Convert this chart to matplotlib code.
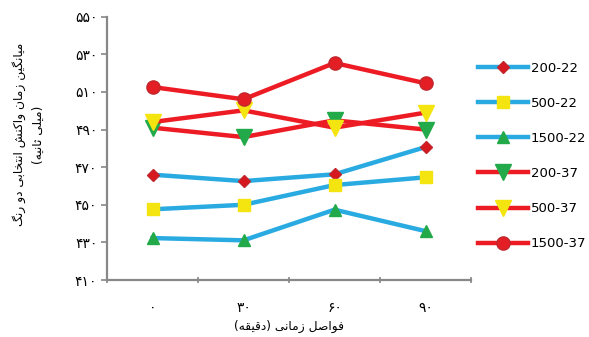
import matplotlib
matplotlib.use("Agg")
import matplotlib.pyplot as plt

# reaction time means per interval
intervals = ["۰", "۳۰", "۶۰", "۹۰"]
s200_22 = [466.0, 462.6, 466.2, 480.7]
s500_22 = [447.6, 450.0, 460.5, 464.6]
s1500_22 = [432.3, 431.1, 447.4, 436.0]
s200_37 = [491.0, 486.0, 494.9, 490.0]
s500_37 = [494.0, 500.2, 491.0, 499.0]
s1500_37 = [512.6, 506.1, 525.4, 514.6]
y_ticks = [410, 430, 450, 470, 490, 510, 530, 550]

ylabel_1 = "میانگین زمان واکنش انتخابی دو رنگ"
ylabel_2 = "(میلی ثانیه)"
xlabel = "فواصل زمانی (دقیقه)"

# contextual forms: isolated, final, initial, medial
FORMS = {
    'ا': (0xFE8D, 0xFE8E, None, None),
    'ب': (0xFE8F, 0xFE90, 0xFE91, 0xFE92),
    'ت': (0xFE95, 0xFE96, 0xFE97, 0xFE98),
    'ث': (0xFE99, 0xFE9A, 0xFE9B, 0xFE9C),
    'خ': (0xFEA5, 0xFEA6, 0xFEA7, 0xFEA8),
    'د': (0xFEA9, 0xFEAA, None, None),
    'ر': (0xFEAD, 0xFEAE, None, None),
    'ز': (0xFEAF, 0xFEB0, None, None),
    'ش': (0xFEB5, 0xFEB6, 0xFEB7, 0xFEB8),
    'ص': (0xFEB9, 0xFEBA, 0xFEBB, 0xFEBC),
    'ف': (0xFED1, 0xFED2, 0xFED3, 0xFED4),
    'ق': (0xFED5, 0xFED6, 0xFED7, 0xFED8),
    'ک': (0xFB8E, 0xFB8F, 0xFB90, 0xFB91),
    'گ': (0xFB92, 0xFB93, 0xFB94, 0xFB95),
    'ل': (0xFEDD, 0xFEDE, 0xFEDF, 0xFEE0),
    'م': (0xFEE1, 0xFEE2, 0xFEE3, 0xFEE4),
    'ن': (0xFEE5, 0xFEE6, 0xFEE7, 0xFEE8),
    'ه': (0xFEE9, 0xFEEA, 0xFEEB, 0xFEEC),
    'و': (0xFEED, 0xFEEE, None, None),
    'ی': (0xFBFC, 0xFBFD, 0xFBFE, 0xFBFF),
}


def rtl(text):
    # join letters and flip to visual order, since matplotlib has no shaping
    out = []
    for i, ch in enumerate(text):
        f = FORMS.get(ch)
        if f is None:
            out.append(ch)
            continue
        prev = text[i - 1] if i > 0 else ''
        nxt = text[i + 1] if i + 1 < len(text) else ''
        jp = prev in FORMS and FORMS[prev][2] is not None
        jn = nxt in FORMS and f[2] is not None
        if jp and jn:
            g = f[3]
        elif jp:
            g = f[1]
        elif jn:
            g = f[2]
        else:
            g = f[0]
        out.append(chr(g))
    return ''.join(out)[::-1].translate(str.maketrans('()', ')('))


def fa_digits(n):
    return str(n).translate(str.maketrans('0123456789', '۰۱۲۳۴۵۶۷۸۹'))


plt.rcParams['font.family'] = ['DejaVu Sans']

fig = plt.figure(figsize=(5.89, 3.37), dpi=100)
ax = fig.add_axes([0.1817, 0.1691, 0.618, 0.7813])

blue = "#29abe2"
red = "#ed1c24"
x = range(len(intervals))
lw = 3.2

ax.plot(x, s200_22, color=blue, lw=lw, marker="D", ms=6.5, mfc="#d7191f", mec="#c1272d", label="200-22")
ax.plot(x, s500_22, color=blue, lw=lw, marker="s", ms=8.5, mfc="#f4e410", mec="#f4e410", label="500-22")
ax.plot(x, s1500_22, color=blue, lw=lw, marker="^", ms=9, mfc="#22aa4a", mec="#22aa4a", label="1500-22")
ax.plot(x, s200_37, color=red, lw=lw, marker="v", ms=11, mfc="#22aa4a", mec="#22aa4a", label="200-37")
ax.plot(x, s500_37, color=red, lw=lw, marker="v", ms=11, mfc="#f4e410", mec="#f4e410", label="500-37")
ax.plot(x, s1500_37, color=red, lw=lw, marker="o", ms=9.5, mfc="#e31e24", mec="#c1272d", label="1500-37")

ax.set_xlim(-0.5, 3.5)
ax.set_ylim(410, 550)
ax.set_yticks(y_ticks)
ax.set_yticklabels([fa_digits(v) for v in y_ticks], fontsize=10)
ax.set_xticks(list(x))
ax.set_xticklabels(intervals, fontsize=10)
ax.set_xticks([-0.5, 0.5, 1.5, 2.5, 3.5], minor=True)
ax.tick_params(axis="x", which="major", length=0, pad=15)
ax.tick_params(axis="x", which="minor", length=4, width=1.2, color="#888888", direction="inout")
ax.tick_params(axis="y", length=4, width=1.2, color="#888888", pad=3)

for side in ("top", "right"):
    ax.spines[side].set_visible(False)
for side in ("left", "bottom"):
    ax.spines[side].set_color("#888888")
    ax.spines[side].set_linewidth(1.6)

fig.text(0.048, 0.6, rtl(ylabel_1) + "\n" + rtl(ylabel_2), rotation=90,
         ha="center", va="center", fontsize=8.8, multialignment="center", linespacing=1.6)
fig.text(0.49, 0.03, rtl(xlabel), ha="center", va="center", fontsize=8.8)

ax.legend(loc="center left", bbox_to_anchor=(0.812, 0.537), bbox_transform=fig.transFigure,
          frameon=False, fontsize=9.5, handlelength=3.8, handletextpad=0.2,
          labelspacing=1.68, borderpad=0, borderaxespad=0)

fig.savefig("out.png", dpi=100)
